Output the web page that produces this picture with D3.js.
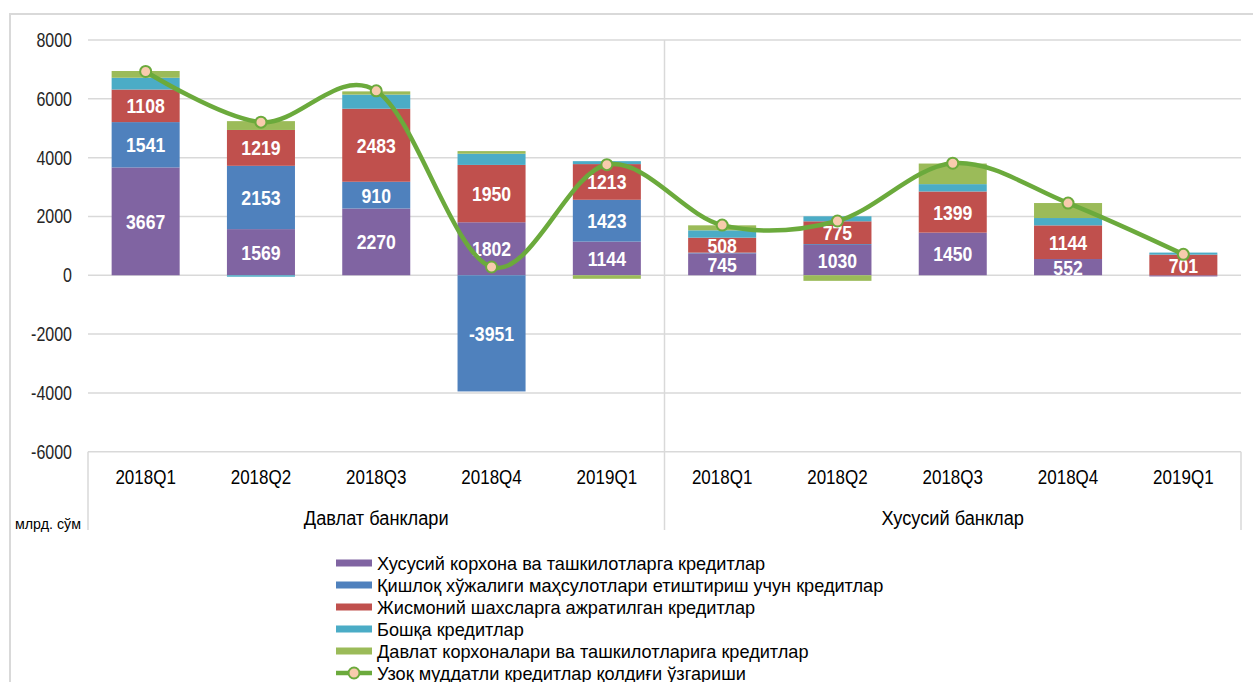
<!DOCTYPE html>
<html>
<head>
<meta charset="utf-8">
<script src="https://cdn.jsdelivr.net/npm/d3@7"></script>
<style>
  body { margin: 0; background: #fff; }
  svg { display: block; font-family: "Liberation Sans Narrow", "Arial Narrow", "Liberation Sans", Arial, sans-serif; }
</style>
</head>
<body>
<div id="chart-container"></div>
<script>
const width = 1253;
const height = 682;

// Data
const quarters = ["2018Q1", "2018Q2", "2018Q3", "2018Q4", "2019Q1",
                  "2018Q1", "2018Q2", "2018Q3", "2018Q4", "2019Q1"];
const groups = ["Давлат банклари", "Хусусий банклар"];
const seriesNames = [
  "Хусусий корхона ва ташкилотларга кредитлар",
  "Қишлоқ хўжалиги маҳсулотлари етиштириш учун кредитлар",
  "Жисмоний шахсларга ажратилган кредитлар",
  "Бошқа кредитлар",
  "Давлат корхоналари ва ташкилотларига кредитлар"
];
const lineName = "Узоқ муддатли кредитлар қолдиғи ўзгариши";

const privateCorp = [3667, 1569, 2270, 1802, 1144, 745, 1030, 1450, 552, -40];
const agriculture = [1541, 2153, 910, -3951, 1423, 25, 30, 0, 0, 0];
const individuals = [1108, 1219, 2483, 1950, 1213, 508, 775, 1399, 1144, 701];
const other = [400, -50, 480, 380, 100, 250, 170, 250, 250, 70];
const stateCorp = [230, 300, 110, 90, -120, 170, -190, 700, 510, 0];
const longTermChange = [6930, 5205, 6270, 280, 3760, 1705, 1845, 3810, 2455, 712];

const yTicks = [-6000, -4000, -2000, 0, 2000, 4000, 6000, 8000];
const colors = ["#8064A2", "#4F81BD", "#C0504D", "#4BACC6", "#9BBB59"];
const lineColor = "#6BAA3C";

const rows = quarters.map((q, i) => ({
  i: i, q: q,
  s0: privateCorp[i], s1: agriculture[i], s2: individuals[i], s3: other[i], s4: stateCorp[i]
}));
const keys = ["s0", "s1", "s2", "s3", "s4"];

// squeeze text horizontally (narrow font look)
function condense(sel, factor) {
  sel.each(function() {
    const w = this.getComputedTextLength();
    d3.select(this).attr("textLength", w * factor).attr("lengthAdjust", "spacingAndGlyphs");
  });
}

const svg = d3.select("#chart-container")
  .append("svg")
  .attr("width", width)
  .attr("height", height);

// outer frame
svg.append("rect")
  .attr("x", 10).attr("y", 14)
  .attr("width", 1260).attr("height", 700)
  .attr("fill", "none").attr("stroke", "#d9d9d9").attr("stroke-width", 2);

const plotLeft = 88, plotRight = 1241;
const x = d3.scaleBand()
  .domain(d3.range(quarters.length))
  .range([plotLeft, plotRight])
  .paddingInner(0.41)
  .paddingOuter(0.205);
const step = x.step();
const cx = i => x(i) + x.bandwidth() / 2;

const y = d3.scaleLinear().domain([-6000, 8000]).range([451.7, 40]);

// gridlines
svg.append("g").selectAll("line")
  .data(yTicks)
  .join("line")
  .attr("x1", plotLeft).attr("x2", plotRight)
  .attr("y1", d => y(d)).attr("y2", d => y(d))
  .attr("stroke", "#d9d9d9").attr("stroke-width", 1.5);

// y labels
svg.append("g").selectAll("text")
  .data(yTicks)
  .join("text")
  .attr("x", 72).attr("y", d => y(d))
  .attr("dy", "0.35em")
  .attr("text-anchor", "end")
  .attr("font-size", 20)
  .attr("fill", "#262626")
  .text(d => d)
  .call(condense, 0.8);

// category axis box lines
const boxBottom = 530;
[plotLeft, plotLeft + step * 5, plotRight].forEach((xx, k) => {
  svg.append("line")
    .attr("x1", xx).attr("x2", xx)
    .attr("y1", k === 1 ? y(8000) : y(-6000)).attr("y2", boxBottom)
    .attr("stroke", "#d9d9d9").attr("stroke-width", 1.5);
});

// quarter labels
svg.append("g").selectAll("text")
  .data(rows)
  .join("text")
  .attr("x", d => cx(d.i)).attr("y", 477)
  .attr("dy", "0.35em")
  .attr("text-anchor", "middle")
  .attr("font-size", 20)
  .attr("fill", "#000")
  .text(d => d.q)
  .call(condense, 0.85);

// group labels
svg.append("g").selectAll("text")
  .data(groups)
  .join("text")
  .attr("x", (d, g) => plotLeft + step * (5 * g + 2.5))
  .attr("y", 518)
  .attr("dy", "0.35em")
  .attr("text-anchor", "middle")
  .attr("font-size", 20)
  .attr("fill", "#000")
  .text(d => d)
  .call(condense, 0.91);

svg.append("text")
  .attr("x", 15).attr("y", 524)
  .attr("dy", "0.35em")
  .attr("font-size", 15)
  .attr("fill", "#000")
  .text("млрд. сўм")
  .call(condense, 0.95);

// stacked bars
const stacked = d3.stack().keys(keys).offset(d3.stackOffsetDiverging)(rows);

const layers = svg.append("g").selectAll("g")
  .data(stacked)
  .join("g")
  .attr("fill", (d, k) => colors[k]);

layers.selectAll("rect")
  .data(d => d)
  .join("rect")
  .attr("x", d => x(d.data.i))
  .attr("width", x.bandwidth())
  .attr("y", d => y(Math.max(d[0], d[1])))
  .attr("height", d => Math.abs(y(d[0]) - y(d[1])));

// value labels on the three main series
const labelData = [];
stacked.slice(0, 3).forEach(layer => {
  layer.forEach(d => {
    const v = d.data[layer.key];
    if (Math.abs(v) >= 300) labelData.push({ i: d.data.i, v: v, mid: (d[0] + d[1]) / 2 });
  });
});
svg.append("g").selectAll("text")
  .data(labelData)
  .join("text")
  .attr("x", d => cx(d.i)).attr("y", d => y(d.mid))
  .attr("dy", "0.36em")
  .attr("text-anchor", "middle")
  .attr("font-size", 21)
  .attr("font-weight", "bold")
  .attr("fill", "#fff")
  .text(d => d.v)
  .call(condense, 0.84);

// smoothed line
const line = d3.line()
  .x((d, i) => cx(i))
  .y(d => y(d))
  .curve(d3.curveCardinal.tension(0));

svg.append("path")
  .datum(longTermChange)
  .attr("d", line)
  .attr("fill", "none")
  .attr("stroke", lineColor)
  .attr("stroke-width", 4.5);

svg.append("g").selectAll("circle")
  .data(longTermChange)
  .join("circle")
  .attr("cx", (d, i) => cx(i)).attr("cy", d => y(d))
  .attr("r", 5.5)
  .attr("fill", "#F8CBAD")
  .attr("stroke", lineColor)
  .attr("stroke-width", 2);

// legend
const legend = svg.append("g").attr("transform", "translate(336,563)");
const rowH = 22;
seriesNames.forEach((name, k) => {
  legend.append("rect")
    .attr("x", 0).attr("y", k * rowH - 3.5)
    .attr("width", 36).attr("height", 7)
    .attr("fill", colors[k]);
  legend.append("text")
    .attr("x", 41).attr("y", k * rowH)
    .attr("dy", "0.35em")
    .attr("font-size", 19)
    .attr("fill", "#000")
    .text(name)
    .call(condense, 0.955);
});
legend.append("line")
  .attr("x1", 0).attr("x2", 36)
  .attr("y1", 5 * rowH).attr("y2", 5 * rowH)
  .attr("stroke", lineColor).attr("stroke-width", 4.5);
legend.append("circle")
  .attr("cx", 18).attr("cy", 5 * rowH).attr("r", 5.5)
  .attr("fill", "#F8CBAD").attr("stroke", lineColor).attr("stroke-width", 2);
legend.append("text")
  .attr("x", 41).attr("y", 5 * rowH)
  .attr("dy", "0.35em")
  .attr("font-size", 19)
  .attr("fill", "#000")
  .text(lineName)
  .call(condense, 0.955);
</script>
</body>
</html>
